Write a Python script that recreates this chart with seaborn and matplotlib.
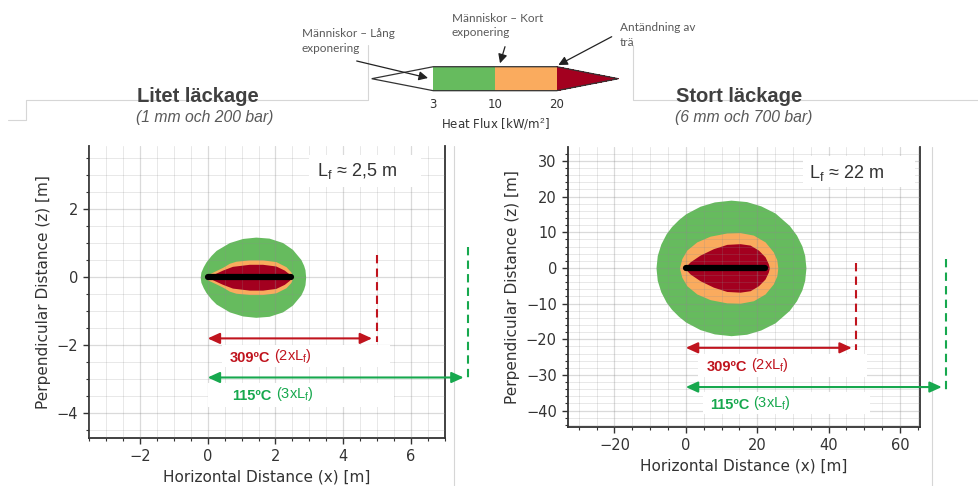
import matplotlib
matplotlib.use("Agg")
import numpy as np
import matplotlib.pyplot as plt
import seaborn as sns
from matplotlib.colors import ListedColormap, BoundaryNorm
from matplotlib.cm import ScalarMappable
from matplotlib.lines import Line2D
from matplotlib.patches import Rectangle, FancyArrowPatch
from matplotlib.ticker import MultipleLocator

sns.set_style("ticks")
plt.rcParams["font.family"] = ["DejaVu Sans"]
plt.rcParams["mathtext.fontset"] = "custom"
plt.rcParams["mathtext.rm"] = "Liberation Sans"
plt.rcParams["mathtext.it"] = "Liberation Sans:italic"
plt.rcParams["mathtext.bf"] = "Liberation Sans:bold"

# ---------------------------------------------------------------- data
# Heat flux bands [kW/m2] and their meaning
flux_levels = [3, 10, 20]
flux_colors = ["#66bb5e", "#faab5e", "#a3001f"]
flux_notes = ["Människor – Lång\nexponering",
              "Människor – Kort\nexponering",
              "Antändning av\nträ"]

temp_labels = ["309ºC", "115ºC"]
reach_labels = ["(2xL$_\\mathrm{f}$)", "(3xL$_\\mathrm{f}$)"]
reach_colors = ["#c0141e", "#17a84e"]

# Small leak (1 mm, 200 bar): half-width of each flux contour along the jet axis [m]
small_green_x = [-0.22, -0.20, -0.13, -0.05, 0.10, 0.25, 0.64, 1.03, 1.42, 1.81, 2.21, 2.50, 2.75, 2.83, 2.87, 2.89]
small_green_z = [0.00, 0.15, 0.31, 0.45, 0.64, 0.79, 1.02, 1.14, 1.18, 1.15, 1.02, 0.82, 0.52, 0.35, 0.22, 0.00]
small_orange_x = [-0.07, 0.00, 0.15, 0.44, 0.64, 0.83, 1.23, 1.62, 2.01, 2.31, 2.45, 2.52]
small_orange_z = [0.00, 0.08, 0.15, 0.29, 0.41, 0.47, 0.51, 0.51, 0.46, 0.31, 0.16, 0.00]
small_red_x = [0.00, 0.20, 0.44, 0.73, 1.23, 1.62, 2.01, 2.26, 2.40, 2.47]
small_red_z = [0.00, 0.10, 0.21, 0.32, 0.38, 0.38, 0.33, 0.21, 0.10, 0.00]
small_flame_x = [0.0, 2.45]
small_reach_x = [4.85, 7.55]
small_reach_z = [-1.80, -2.95]
small_mark_x = [5.0, 7.68]
small_mark_top = [0.65, 0.88]
small_mark_bottom = [-1.92, -3.08]

# Large leak (6 mm, 700 bar)
large_green_x = [-8.35, -8.0, -7.0, -5.5, -4.0, -2.0, 0.0, 4.0, 8.0, 12.65, 17.0, 21.0, 25.0, 29.0, 31.0, 32.5, 33.3, 33.65]
large_green_z = [0.0, 3.5, 6.7, 9.6, 11.6, 13.6, 15.2, 17.3, 18.5, 19.0, 18.6, 17.4, 15.4, 11.9, 9.2, 6.2, 3.5, 0.0]
large_orange_x = [-1.79, -1.12, 0.28, 3.08, 6.81, 11.48, 15.2, 18.94, 22.2, 24.5, 25.5, 25.77]
large_orange_z = [0.0, 2.6, 5.0, 7.3, 8.9, 9.8, 9.9, 9.2, 7.3, 4.5, 2.2, 0.0]
large_red_x = [-0.38, 1.2, 4.0, 7.74, 11.48, 15.2, 18.0, 20.34, 22.2, 23.1, 23.4]
large_red_z = [0.0, 1.7, 3.6, 5.4, 6.6, 6.8, 6.4, 5.0, 3.1, 1.2, 0.0]
large_flame_x = [0.0, 22.2]
large_reach_x = [46.5, 71.7]
large_reach_z = [-22.4, -33.4]
large_mark_x = [47.6, 72.9]
large_mark_top = [1.4, 2.6]
large_mark_bottom = [-23.0, -34.4]

# ---------------------------------------------------------------- figure
W, H = 979, 486
fig = plt.figure(figsize=(W / 100, H / 100), dpi=100, facecolor="white")


def fx(px):
    return px / W


def fy(py):
    return 1 - py / H


TXT = "#333333"


def draw_panel(ax, bands, flame_x, reach_x, reach_z, mark_x, mark_top, mark_bot,
               xlim, ylim, xmaj, xmin, ymaj, ymin, lf_text, lf_box, lf_pos,
               label_boxes, label_pos):
    for (xs, zs), col in zip(bands, flux_colors):
        zs = np.asarray(zs)
        ax.fill_between(xs, -zs, zs, color=col, lw=0, zorder=1)
    sns.lineplot(x=flame_x, y=[0, 0], color="black", lw=4.5, ax=ax,
                 zorder=3, solid_capstyle="round")

    for rx, rz, mx, mt, mb, col in zip(reach_x, reach_z, mark_x, mark_top,
                                       mark_bot, reach_colors):
        ax.annotate("", xy=(rx, rz), xytext=(0, rz), annotation_clip=False,
                    arrowprops=dict(arrowstyle="<|-|>,head_length=0.55,head_width=0.25",
                                    color=col, lw=1.5, shrinkA=0, shrinkB=0,
                                    mutation_scale=13), zorder=6)
        ax.plot([mx, mx], [mt, mb], ls=(0, (4, 2.5)), color=col, lw=1.5,
                clip_on=False, zorder=6)

    for (bx0, by0, bx1, by1), (tx, ty), t1, t2, col in zip(label_boxes, label_pos,
                                                       temp_labels, reach_labels,
                                                       reach_colors):
        ax.add_patch(Rectangle((bx0, by0), bx1 - bx0, by1 - by0, facecolor="white",
                               edgecolor="none", zorder=4))
        t = ax.text(tx, ty, t1, color=col, fontsize=10.5, fontweight="bold",
                    family="Liberation Sans", ha="left", va="center", zorder=7)
        ax.annotate(" " + t2, xy=(1, 0), xycoords=t, color=col, fontsize=10.5,
                    family="Liberation Sans", ha="left", va="bottom", zorder=7)

    bx0, by0, bx1, by1 = lf_box
    ax.add_patch(Rectangle((bx0, by0), bx1 - bx0, by1 - by0, facecolor="white",
                           edgecolor="none", zorder=4))
    ax.text(lf_pos[0], lf_pos[1], lf_text, fontsize=13, family="Liberation Sans",
            color=TXT, ha="center", va="center", zorder=7)

    ax.set_xlim(*xlim)
    ax.set_ylim(*ylim)
    ax.xaxis.set_major_locator(MultipleLocator(xmaj))
    ax.xaxis.set_minor_locator(MultipleLocator(xmin))
    ax.yaxis.set_major_locator(MultipleLocator(ymaj))
    ax.yaxis.set_minor_locator(MultipleLocator(ymin))
    ax.set_axisbelow(False)
    ax.grid(True, which="major", color="#8c8c8c", alpha=0.32, lw=0.9)
    ax.grid(True, which="minor", color="#8c8c8c", alpha=0.2, lw=0.7)
    ax.spines["top"].set_visible(False)
    for s in ["left", "bottom", "right"]:
        ax.spines[s].set_color("#333333")
        ax.spines[s].set_linewidth(1.3)
    ax.tick_params(which="major", direction="out", length=4.5, width=1,
                   colors="#333333", labelsize=10.5, labelcolor=TXT,
                   left=True, bottom=True)
    ax.tick_params(which="minor", direction="out", length=2.5, width=0.8,
                   colors="#333333", left=True, bottom=True)
    ax.set_xlabel("Horizontal Distance (x) [m]", fontsize=11, color=TXT)
    ax.set_ylabel("Perpendicular Distance (z) [m]", fontsize=11, color=TXT)
    ax.set_facecolor("white")


ax1 = fig.add_axes([fx(89), fy(438), fx(445) - fx(89), fy(146) - fy(438)])
draw_panel(ax1,
           [(small_green_x, small_green_z), (small_orange_x, small_orange_z),
            (small_red_x, small_red_z)],
           small_flame_x, small_reach_x, small_reach_z, small_mark_x,
           small_mark_top, small_mark_bottom,
           (-3.5, 7.0), (-4.73, 3.86), 2, 0.5, 2, 0.5,
           "L$_\\mathrm{f}$ ≈ 2,5 m", (3.0, 2.66, 6.3, 3.6), (4.4, 3.13),
           [(0.42, -2.64, 5.37, -1.99), (0.0, -3.81, 5.49, -3.11)],
           [(0.64, -2.37), (0.73, -3.48)])

ax2 = fig.add_axes([fx(568), fy(427), fx(920) - fx(568), fy(147) - fy(427)])
draw_panel(ax2,
           [(large_green_x, large_green_z), (large_orange_x, large_orange_z),
            (large_red_x, large_red_z)],
           large_flame_x, large_reach_x, large_reach_z, large_mark_x,
           large_mark_top, large_mark_bottom,
           (-33.0, 65.6), (-44.6, 33.9), 20, 5, 10, 2,
           "L$_\\mathrm{f}$ ≈ 22 m", (32.9, 22.7, 64.2, 31.4), (45.0, 26.7),
           [(3.45, -30.6, 50.7, -24.2), (4.85, -40.9, 51.6, -34.9)],
           [(5.9, -27.8), (6.8, -38.3)])

# ---------------------------------------------------------------- heat flux scale
cax = fig.add_axes([fx(371.7), fy(90.7), fx(618.3) - fx(371.7), fy(66.7) - fy(90.7)])
cmap = ListedColormap(flux_colors[:2])
cmap.set_under("white")
cmap.set_over(flux_colors[2])
norm = BoundaryNorm(flux_levels, cmap.N)
cb = fig.colorbar(ScalarMappable(norm=norm, cmap=cmap), cax=cax,
                  orientation="horizontal", extend="both", extendfrac=0.5,
                  ticks=flux_levels)
cb.outline.set_linewidth(0.9)
cb.outline.set_edgecolor("#333333")
cax.tick_params(length=0, pad=5, labelsize=8.5, labelcolor=TXT)
cb.set_label("Heat Flux [kW/m$^2$]", fontsize=8.5, color=TXT, labelpad=4)

note_pos = [(301.7, 41), (451.7, 25.4), (620, 35)]
arrow_tail = [(356.7, 61), (505, 46.7), (611.7, 36.7)]
arrow_tip = [(428, 78), (500, 63.3), (558.3, 65)]
for note, (nx, ny), (ax0, ay0), (ax1_, ay1_) in zip(flux_notes, note_pos, arrow_tail, arrow_tip):
    fig.text(fx(nx), fy(ny), note, fontsize=8.5, family="Lato", color="#595959",
             ha="left", va="center", linespacing=1.35)
    fig.add_artist(FancyArrowPatch(
        (fx(ax0), fy(ay0)), (fx(ax1_), fy(ay1_)), transform=fig.transFigure,
        arrowstyle="-|>,head_length=0.6,head_width=0.3", mutation_scale=9,
        color="#222222", lw=0.9, shrinkA=0, shrinkB=0))

# ---------------------------------------------------------------- titles
fig.text(fx(198), fy(96), "Litet läckage", fontsize=14.5, fontweight="bold",
         family="Liberation Sans", color="#404040", ha="center", va="center")
fig.text(fx(205), fy(117.5), "(1 mm och 200 bar)", fontsize=11.3, style="italic",
         family="Liberation Sans", color="#595959", ha="center", va="center")
fig.text(fx(739), fy(96), "Stort läckage", fontsize=14.5, fontweight="bold",
         family="Liberation Sans", color="#404040", ha="center", va="center")
fig.text(fx(744), fy(117.5), "(6 mm och 700 bar)", fontsize=11.3, style="italic",
         family="Liberation Sans", color="#595959", ha="center", va="center")

# ---------------------------------------------------------------- slide frames
frame = dict(transform=fig.transFigure, color="#d6d6d6", lw=0.8, zorder=0)
fig.add_artist(Line2D([fx(8), fx(26), fx(26), fx(368), fx(368)],
                      [fy(120), fy(120), fy(100), fy(100), fy(45)], **frame))
fig.add_artist(Line2D([fx(633), fx(633), fx(979)],
                      [fy(45), fy(100), fy(100)], **frame))
fig.add_artist(Line2D([fx(454), fx(454)], [fy(146), fy(486)], **frame))
fig.add_artist(Line2D([fx(931.7), fx(931.7)], [fy(147), fy(486)], **frame))

fig.savefig("out.png", dpi=100, facecolor="white")
